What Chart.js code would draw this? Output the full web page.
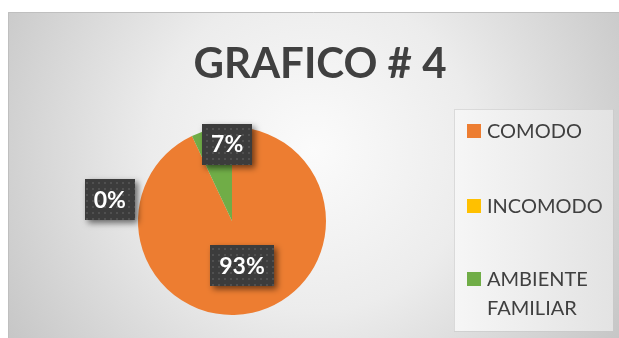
<!DOCTYPE html>
<html>
<head>
<meta charset="utf-8">
<script src="https://cdn.jsdelivr.net/npm/chart.js@4.4.0/dist/chart.umd.min.js"></script>
<style>
  html, body { margin: 0; padding: 0; background: #fff; }
  #wrap { width: 619px; height: 338px; }
</style>
</head>
<body>
<div id="wrap"><canvas id="grafico" width="619" height="338"></canvas></div>
<script>
// datos del grafico
var titulo = 'GRAFICO # 4';
var categorias = ['COMODO', 'INCOMODO', 'AMBIENTE FAMILIAR'];
var leyenda = [['COMODO'], ['INCOMODO'], ['AMBIENTE', 'FAMILIAR']];
var porcentajes = [93, 0, 7];
var colores = ['#ED7D31', '#FFC000', '#70AD47'];

// donde va cada etiqueta: fraccion del radio y ajuste de angulo (grados)
var etiquetasPos = [{ r: 0.49, da: 0 }, { r: 1.32, da: -55 }, { r: 0.82, da: 9 }];

var fuente = 'Lato, "Open Sans", sans-serif';

// trama punteada de las etiquetas
function hacerTrama(ctx) {
  var c = document.createElement('canvas');
  c.width = 6; c.height = 6;
  var t = c.getContext('2d');
  t.fillStyle = '#3c3c3c';
  t.fillRect(0, 0, 6, 6);
  t.fillStyle = '#505050';
  t.fillRect(2, 2, 2, 2);
  return ctx.createPattern(c, 'repeat');
}

var fondo = {
  id: 'fondo',
  beforeDraw: function(chart) {
    var ctx = chart.ctx;
    ctx.save();
    var g = ctx.createRadialGradient(313, 150, 0, 313, 150, 360);
    g.addColorStop(0, '#fbfbfb');
    g.addColorStop(0.45, '#ececec');
    g.addColorStop(1, '#c6c6c6');
    ctx.fillStyle = g;
    ctx.fillRect(8, 12, 611, 326);
    ctx.strokeStyle = '#bfbfbf';
    ctx.lineWidth = 1;
    ctx.beginPath();
    ctx.moveTo(8.5, 338); ctx.lineTo(8.5, 12.5); ctx.lineTo(619, 12.5);
    ctx.stroke();

    // titulo
    ctx.fillStyle = '#404040';
    ctx.font = 'bold 42px ' + fuente;
    ctx.textAlign = 'center';
    ctx.textBaseline = 'alphabetic';
    ctx.fillText(titulo, 320, 78);

    // cuadro de la leyenda
    var lg = ctx.createLinearGradient(454, 0, 613, 0);
    lg.addColorStop(0, '#f6f6f6');
    lg.addColorStop(1, '#e3e3e3');
    ctx.fillStyle = lg;
    ctx.fillRect(454, 109, 159, 222);
    ctx.strokeStyle = 'rgba(200,200,200,0.6)';
    ctx.strokeRect(454.5, 109.5, 159, 222);

    var ys = [131, 206, 279];
    ctx.font = '20px ' + fuente;
    ctx.textAlign = 'left';
    ctx.textBaseline = 'middle';
    leyenda.forEach(function(lineas, i) {
      ctx.fillStyle = colores[i];
      ctx.fillRect(467, ys[i] - 7, 14, 14);
      ctx.fillStyle = '#404040';
      lineas.forEach(function(txt, k) {
        ctx.fillText(txt, 487, ys[i] + 1 + k * 29);
      });
    });
    ctx.restore();
  }
};

var etiquetas = {
  id: 'etiquetas',
  afterDatasetsDraw: function(chart) {
    var ctx = chart.ctx;
    var meta = chart.getDatasetMeta(0);
    var trama = hacerTrama(ctx);
    ctx.save();
    ctx.font = 'bold 23px ' + fuente;
    meta.data.forEach(function(arc, i) {
      var p = arc.getProps(['x', 'y', 'startAngle', 'endAngle', 'outerRadius'], true);
      var ang = (p.startAngle + p.endAngle) / 2 + etiquetasPos[i].da * Math.PI / 180;
      var rr = p.outerRadius * etiquetasPos[i].r;
      var cx = p.x + Math.cos(ang) * rr;
      var cy = p.y + Math.sin(ang) * rr;
      var txt = porcentajes[i] + '%';
      var w = ctx.measureText(txt).width + 18;
      var h = 41;
      ctx.save();
      ctx.shadowColor = 'rgba(0,0,0,0.55)';
      ctx.shadowBlur = 6;
      ctx.shadowOffsetX = 3;
      ctx.shadowOffsetY = 3;
      ctx.fillStyle = trama;
      ctx.fillRect(Math.round(cx - w / 2), Math.round(cy - h / 2), Math.round(w), h);
      ctx.restore();
      ctx.fillStyle = '#ffffff';
      ctx.textAlign = 'center';
      ctx.textBaseline = 'middle';
      ctx.fillText(txt, cx, cy + 1);
    });
    ctx.restore();
  }
};

new Chart('grafico', {
  type: 'pie',
  data: {
    labels: categorias,
    datasets: [{
      data: porcentajes,
      backgroundColor: colores,
      borderWidth: 0
    }]
  },
  options: {
    responsive: false,
    animation: false,
    events: [],
    layout: { padding: { top: 127, bottom: 23, left: 137, right: 292 } },
    plugins: {
      legend: { display: false },
      title: { display: false },
      tooltip: { enabled: false }
    }
  },
  plugins: [fondo, etiquetas]
});
</script>
</body>
</html>
